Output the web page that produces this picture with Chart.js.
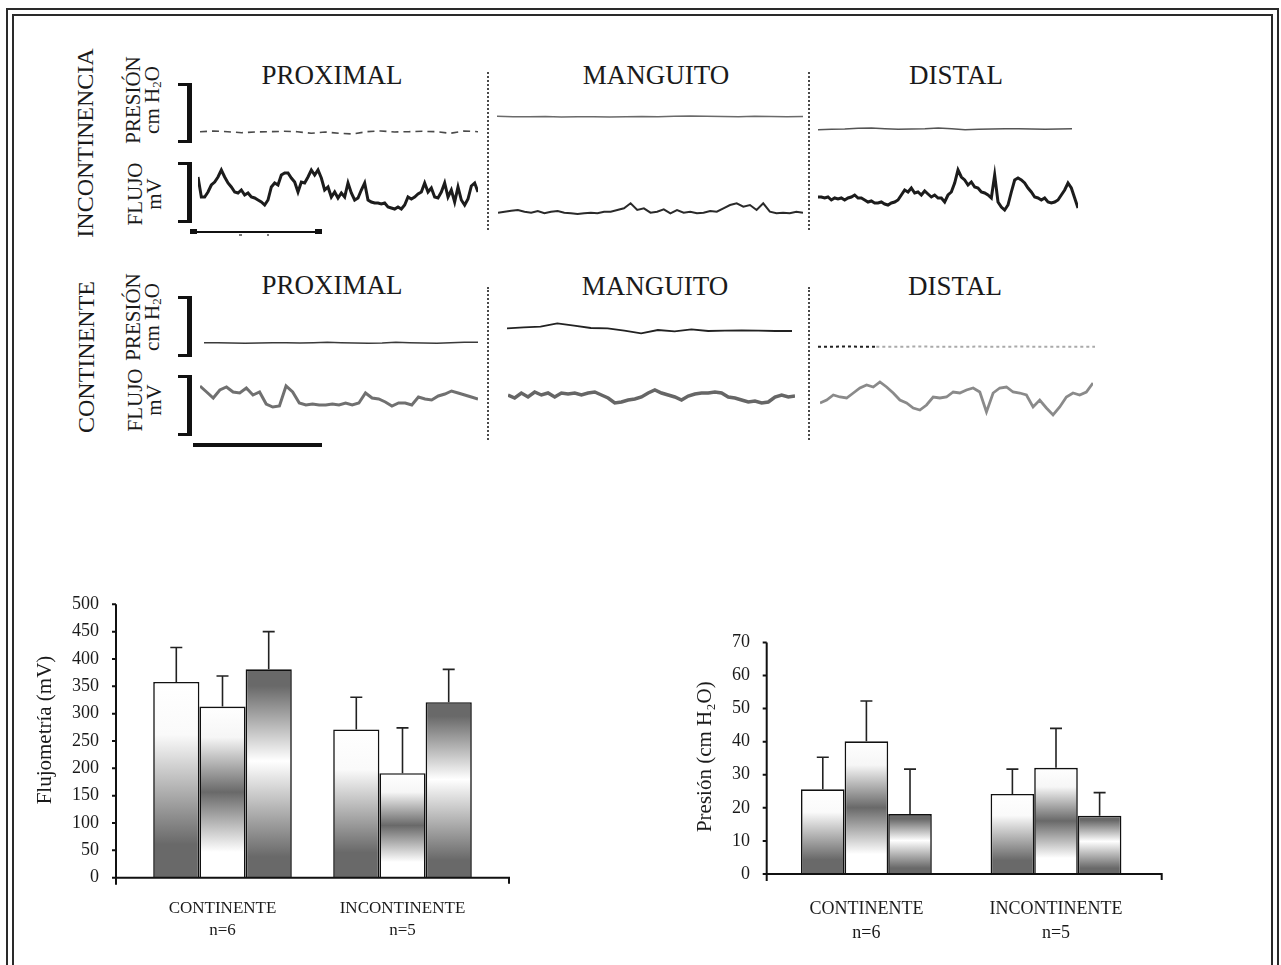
<!DOCTYPE html>
<html>
<head>
<meta charset="utf-8">
<script src="https://cdn.jsdelivr.net/npm/chart.js@4.4.0/dist/chart.umd.min.js"></script>
<style>
  body { margin: 0; background: #fff; }
  #page { position: relative; width: 1281px; height: 965px; overflow: hidden; background: #fff;
          font-family: 'Liberation Serif', 'Times New Roman', serif; color: #1a1a1a; }
  .frame { position: absolute; border: 2px solid #2a2a2a; box-sizing: border-box; }
  .title { position: absolute; font-size: 27px; transform: translate(-50%, -50%); white-space: nowrap; }
  .rot { position: absolute; transform: translate(-50%, -50%) rotate(-90deg); white-space: nowrap; text-align: center; }
  .big { font-size: 24px; }
  .lbl { font-size: 21px; line-height: 19px; }
  .lbl sub { font-size: 13px; vertical-align: -2px; }
  .bracket { position: absolute; box-sizing: border-box; width: 14px;
             border-top: 3px solid #111; border-bottom: 3px solid #111; border-right: 5px solid #111; }
  .divider { position: absolute; width: 0; border-left: 2px dotted #4a4a4a; }
  .bar { position: absolute; background: #111; }
  canvas { position: absolute; }
</style>
</head>
<body>
<div id="page">
  <div class="frame" style="left:6px; top:8px; width:1273px; height:1000px;"></div>
  <div class="frame" style="left:12px; top:14px; width:1261px; height:1000px;"></div>

  <!-- fila INCONTINENCIA -->
  <div class="rot big" style="left:85px; top:143px;">INCONTINENCIA</div>
  <div class="rot lbl" style="left:145px; top:100px;">PRESIÓN<br>cm H<sub>2</sub>O</div>
  <div class="rot lbl" style="left:145px; top:194px;">FLUJO<br>mV</div>
  <div class="bracket" style="left:178px; top:83px; height:60px;"></div>
  <div class="bracket" style="left:178px; top:162px; height:61px;"></div>
  <div class="title" style="left:332px; top:75px;">PROXIMAL</div>
  <div class="title" style="left:656px; top:75px;">MANGUITO</div>
  <div class="title" style="left:956px; top:75px;">DISTAL</div>
  <div class="divider" style="left:487px; top:72px; height:158px;"></div>
  <div class="divider" style="left:808px; top:72px; height:158px;"></div>
  <div class="bar" style="left:192px; top:231px; width:128px; height:1.5px;"></div>
  <div class="bar" style="left:190px; top:229px; width:7px; height:5px;"></div>
  <div class="bar" style="left:315px; top:229px; width:7px; height:5px;"></div>
  <div class="bar" style="left:239px; top:234px; width:3px; height:2px; background:#777;"></div>
  <div class="bar" style="left:267px; top:234px; width:2px; height:2px; background:#777;"></div>

  <!-- fila CONTINENTE -->
  <div class="rot big" style="left:86px; top:357px;">CONTINENTE</div>
  <div class="rot lbl" style="left:145px; top:317px;">PRESIÓN<br>cm H<sub>2</sub>O</div>
  <div class="rot lbl" style="left:145px; top:400px;">FLUJO<br>mV</div>
  <div class="bracket" style="left:178px; top:296px; height:61px;"></div>
  <div class="bracket" style="left:178px; top:375px; height:61px;"></div>
  <div class="title" style="left:332px; top:285px;">PROXIMAL</div>
  <div class="title" style="left:655px; top:286px;">MANGUITO</div>
  <div class="title" style="left:955px; top:286px;">DISTAL</div>
  <div class="divider" style="left:487px; top:287px; height:153px;"></div>
  <div class="divider" style="left:808px; top:287px; height:153px;"></div>
  <div class="bar" style="left:193px; top:443px; width:129px; height:4px;"></div>
</div>

<script>
const incProxPresion = [103.3, 104, 103.3, 102.3, 103, 103.3, 103.7, 103.3, 101.7, 103, 101.7, 101, 103.3, 104, 103, 103.3, 103.7, 103.3, 101.7, 104, 103.3];
const incProxFlujo = [58, 38, 38, 43, 50, 53, 58, 65, 58, 52, 48, 43, 42, 45, 40, 42, 38, 37, 35, 33,
  30, 35, 48, 52, 50, 60, 62, 62, 57, 53, 43, 53, 52, 58, 65, 60, 65, 57, 45, 48,
  38, 43, 37, 42, 38, 52, 42, 35, 37, 45, 52, 35, 33, 32, 32, 31, 32, 28, 27, 26,
  28, 26, 30, 38, 36, 38, 41, 43, 52, 43, 47, 38, 37, 43, 52, 38, 45, 33, 48, 35,
  30, 36, 49, 52, 43];
const incMangPresion = [118.7, 118.3, 118.3, 118.5, 118, 118.3, 118.2, 118, 118.3, 118.5, 118.3, 118.7, 119, 118.7, 118.5, 118.3, 118.7, 118.5, 118.3, 118.5];
const incMangFlujo = [22.3, 23.3, 24.3, 25, 23.3, 22.3, 24, 21.7, 23.3, 24, 22.3, 21.7, 21, 21.7, 22.3, 21.7, 23.3, 23.3, 25, 26.7,
  31.7, 25, 26.7, 22.3, 23.3, 25.7, 21.7, 25, 22.3, 23.3, 21.7, 22.3, 24, 23.3, 26.7, 30, 31.7, 28.3, 30, 25,
  31.7, 23.3, 21.7, 22.3, 21.7, 23.3, 22.3];
const incDistPresion = [105.3, 105.7, 106, 106.7, 107, 106.3, 105.7, 106, 106.3, 107, 106.3, 105.3, 105.7, 106, 106.3, 106.3, 106, 105.7, 106, 106.3];
const incDistFlujo = [38, 38, 37, 38, 35, 37, 36, 37, 35, 37, 38, 40, 37, 37, 35, 33, 34, 32, 32, 33,
  31, 30, 32, 33, 35, 40, 45, 43, 47, 42, 43, 40, 44, 41, 38, 40, 37, 37, 33, 40,
  43, 52, 65, 58, 55, 50, 53, 48, 47, 43, 42, 40, 37, 60, 33, 28, 25, 30, 43, 55,
  57, 55, 52, 47, 43, 38, 37, 35, 37, 33, 32, 33, 35, 40, 45, 52, 47, 37, 27];

const conProxPresion = [102.3, 102.3, 102, 101.7, 102, 102.3, 102.3, 102, 102.3, 102.7, 102.3, 102, 101.7, 102, 102.7, 102.3, 102, 101.7, 102.3, 102.7, 102.7];
const conProxFlujo = [59, 53, 47, 55, 58, 53, 52, 57, 50, 53, 41, 38, 39, 59, 53, 42, 40, 41, 40, 40,
  41, 40, 42, 40, 42, 52, 47, 46, 43, 39, 42, 42, 40, 48, 46, 45, 49, 51, 54, 52, 50, 48, 46];
const conMangPresion = [116.7, 117.7, 118.3, 121.7, 119.3, 117, 116.7, 114.3, 111.7, 115, 113.7, 115.7, 114, 114.3, 114.7, 114.3, 114, 114];
const conMangFlujo = [50, 47, 52, 48, 53, 50, 52, 48, 52, 51, 52, 50, 52, 53, 50, 47, 42, 43, 45, 46,
  48, 52, 55, 52, 50, 48, 45, 49, 51, 52, 52, 53, 52, 48, 47, 45, 43, 44, 42, 43, 48, 50, 48, 49];
const conDistPresion = [98.3, 98.3, 98.5, 98.3, 98.3, 98.2, 98.3, 98.5, 98.3, 98.3, 98.3, 98.4, 98.3, 98.3, 98.5, 98.3, 98.3, 98.2, 98.3, 98.3];
const conDistFlujo = [42, 45, 50, 48, 47, 52, 57, 60, 58, 63, 58, 52, 45, 42, 37, 35, 40, 48, 47, 48,
  53, 52, 55, 57, 53, 33, 52, 57, 58, 53, 52, 50, 38, 45, 37, 30, 38, 48, 52, 50, 53, 62];

// ---- gráficos de barras ----
const grupos = [['CONTINENTE', 'n=6'], ['INCONTINENTE', 'n=5']];
const flujoProximal = [358, 271];
const flujoManguito = [313, 191];
const flujoDistal = [381, 321];
const flujoErrProximal = [63, 59];
const flujoErrManguito = [56, 83];
const flujoErrDistal = [69, 60];

const presionProximal = [25.6, 24.2];
const presionManguito = [40.1, 32.1];
const presionDistal = [18.1, 17.6];
const presionErrProximal = [9.7, 7.5];
const presionErrManguito = [12.2, 11.9];
const presionErrDistal = [13.6, 7.0];

Chart.defaults.font.family = "'Liberation Serif', 'Times New Roman', serif";
Chart.defaults.color = '#1a1a1a';

const page = document.getElementById('page');
const FILAS = [60, 270];
const ALTO_FILA = 175;

function trazo(cfg) {
  const cv = document.createElement('canvas');
  cv.width = cfg.w;
  cv.height = ALTO_FILA;
  cv.style.left = cfg.x + 'px';
  cv.style.top = FILAS[cfg.fila] + 'px';
  page.appendChild(cv);
  new Chart(cv, {
    type: 'line',
    data: {
      labels: cfg.data.map(function(v, i) { return i; }),
      datasets: [{
        data: cfg.data,
        borderColor: cfg.color,
        borderWidth: cfg.ancho,
        borderDash: cfg.dash || [],
        segment: cfg.segment || {},
        borderJoinStyle: 'miter',
        pointRadius: 0,
        tension: 0,
        clip: false
      }]
    },
    options: {
      responsive: false,
      animation: false,
      events: [],
      layout: { padding: 0 },
      plugins: { legend: { display: false }, tooltip: { enabled: false } },
      scales: {
        x: { display: false },
        y: { display: false, min: 0, max: ALTO_FILA }
      }
    }
  });
}

trazo({ data: incProxPresion, fila: 0, x: 200, w: 278, color: '#4a4a4a', ancho: 1.6, dash: [7, 5] });
trazo({ data: incProxFlujo, fila: 0, x: 198, w: 280, color: '#1c1c1c', ancho: 3 });
trazo({ data: incMangPresion, fila: 0, x: 497, w: 306, color: '#6a6a6a', ancho: 1.4 });
trazo({ data: incMangFlujo, fila: 0, x: 498, w: 305, color: '#2a2a2a', ancho: 2 });
trazo({ data: incDistPresion, fila: 0, x: 818, w: 254, color: '#555', ancho: 1.5 });
trazo({ data: incDistFlujo, fila: 0, x: 818, w: 260, color: '#1c1c1c', ancho: 3 });

trazo({ data: conProxPresion, fila: 1, x: 204, w: 274, color: '#3a3a3a', ancho: 1.5 });
trazo({ data: conProxFlujo, fila: 1, x: 200, w: 278, color: '#707070', ancho: 3 });
trazo({ data: conMangPresion, fila: 1, x: 507, w: 285, color: '#222', ancho: 1.8 });
trazo({ data: conMangFlujo, fila: 1, x: 508, w: 287, color: '#666', ancho: 3.5 });
trazo({ data: conDistPresion, fila: 1, x: 818, w: 277, color: '#222', ancho: 2, dash: [3, 3],
  segment: { borderColor: function(c) { return c.p0DataIndex < 4 ? '#222' : '#aaa'; } } });
trazo({ data: conDistFlujo, fila: 1, x: 820, w: 273, color: '#8a8a8a', ancho: 2.8 });

// ---- barras con degradado ----
const OSCURO = '#696969';
const perfiles = [
  [[0, '#ffffff'], [0.27, '#fafafa'], [0.83, OSCURO], [1, OSCURO]],
  [[0, '#ffffff'], [0.18, '#f6f6f6'], [0.5, OSCURO], [0.85, '#ffffff'], [1, '#ffffff']],
  [[0, OSCURO], [0.08, OSCURO], [0.44, '#ffffff'], [0.9, OSCURO], [1, OSCURO]]
];

function relleno(perfil) {
  return function(c) {
    const chart = c.chart;
    const y = chart.scales.y;
    if (!chart.chartArea || !y || c.type !== 'data') return '#bbb';
    const g = chart.ctx.createLinearGradient(0, y.getPixelForValue(c.raw), 0, y.getPixelForValue(0));
    perfil.forEach(function(s) { g.addColorStop(s[0], s[1]); });
    return g;
  };
}

const barrasError = {
  id: 'barrasError',
  afterDatasetsDraw(chart) {
    const c = chart.ctx;
    const y = chart.scales.y;
    chart.data.datasets.forEach(function(ds, i) {
      chart.getDatasetMeta(i).data.forEach(function(bar, j) {
        const top = y.getPixelForValue(ds.data[j] + ds.errores[j]);
        c.save();
        c.strokeStyle = '#222';
        c.lineWidth = 1.6;
        c.beginPath();
        c.moveTo(bar.x, bar.y);
        c.lineTo(bar.x, top);
        c.moveTo(bar.x - 6, top);
        c.lineTo(bar.x + 6, top);
        c.stroke();
        c.restore();
      });
    });
  }
};

// ejes dibujados a mano: el eje y queda separado de la primera barra
const ejes = {
  id: 'ejes',
  afterDraw(chart, args, o) {
    const c = chart.ctx;
    const a = chart.chartArea;
    const y = chart.scales.y;
    const x0 = a.left - o.izq, x1 = a.right + o.der, y0 = y.getPixelForValue(0);
    c.save();
    c.strokeStyle = '#111';
    c.lineWidth = 2;
    c.beginPath();
    c.moveTo(x0, y.getPixelForValue(y.max));
    c.lineTo(x0, y0 + 7);
    c.moveTo(x0, y0);
    c.lineTo(x1, y0);
    c.lineTo(x1, y0 + 6);
    y.ticks.forEach(function(t) {
      const py = y.getPixelForValue(t.value);
      c.moveTo(x0 - 4, py);
      c.lineTo(x0, py);
    });
    c.stroke();
    // título del eje y
    c.fillStyle = '#1a1a1a';
    c.font = o.tFont + "px 'Liberation Serif', 'Times New Roman', serif";
    c.textAlign = 'center';
    c.textBaseline = 'middle';
    c.translate(o.tX, (a.top + a.bottom) / 2 + o.tDy);
    c.rotate(-Math.PI / 2);
    c.fillText(o.titulo, 0, 0);
    c.restore();
  }
};

function barras(cfg) {
  const cv = document.createElement('canvas');
  cv.width = cfg.w;
  cv.height = cfg.h;
  cv.style.left = cfg.x + 'px';
  cv.style.top = cfg.y + 'px';
  page.appendChild(cv);
  const series = [cfg.proximal, cfg.manguito, cfg.distal];
  const errores = [cfg.errProximal, cfg.errManguito, cfg.errDistal];
  new Chart(cv, {
    type: 'bar',
    data: {
      labels: grupos,
      datasets: series.map(function(s, i) {
        return {
          data: s,
          errores: errores[i],
          backgroundColor: relleno(perfiles[i]),
          borderColor: '#111',
          borderWidth: 1.6,
          categoryPercentage: cfg.catPct,
          barPercentage: 1
        };
      })
    },
    options: {
      responsive: false,
      animation: false,
      events: [],
      layout: { padding: { left: 0, top: cfg.padTop, right: cfg.padRight, bottom: 0 } },
      plugins: { legend: { display: false }, tooltip: { enabled: false },
                 ejes: { izq: cfg.ejeIzq, der: cfg.ejeDer, titulo: cfg.titulo, tFont: cfg.tFont,
                         tX: cfg.tX, tDy: cfg.tDy } },
      scales: {
        x: {
          grid: { display: false, drawTicks: false },
          border: { display: false },
          ticks: { padding: cfg.xPad, font: { size: cfg.xFont, lineHeight: 1.3 }, color: '#1a1a1a' },
          afterFit: function(s) { s.height = cfg.xAlto; }
        },
        y: {
          min: 0, max: cfg.max,
          grid: { display: false, drawTicks: false },
          border: { display: false },
          ticks: { stepSize: cfg.paso, padding: cfg.yPad, font: { size: 18 }, color: '#1a1a1a' },
          afterFit: function(s) { s.width = cfg.yAncho; }
        }
      }
    },
    plugins: [barrasError, ejes]
  });
}

barras({
  x: 0, y: 560, w: 560, h: 400,
  proximal: flujoProximal, manguito: flujoManguito, distal: flujoDistal,
  errProximal: flujoErrProximal, errManguito: flujoErrManguito, errDistal: flujoErrDistal,
  max: 500, paso: 50, titulo: 'Flujometría (mV)', tFont: 21, tX: 45, tDy: -11,
  padTop: 34.3, padRight: 67.5, yAncho: 132.5, xAlto: 82.3, yPad: 33.5,
  xPad: 20, xFont: 17, catPct: 0.77, ejeIzq: 16.5, ejeDer: 16.5
});

barras({
  x: 660, y: 610, w: 560, h: 350,
  proximal: presionProximal, manguito: presionManguito, distal: presionDistal,
  errProximal: presionErrProximal, errManguito: presionErrManguito, errDistal: presionErrDistal,
  max: 70, paso: 10, titulo: 'Presión (cm H₂O)', tFont: 21, tX: 45, tDy: -1.5,
  padTop: 25, padRight: 69.2, yAncho: 111.6, xAlto: 86, yPad: 21.6,
  xPad: 24, xFont: 18, catPct: 0.69, ejeIzq: 4.9, ejeDer: 10.9
});
</script>
</body>
</html>
